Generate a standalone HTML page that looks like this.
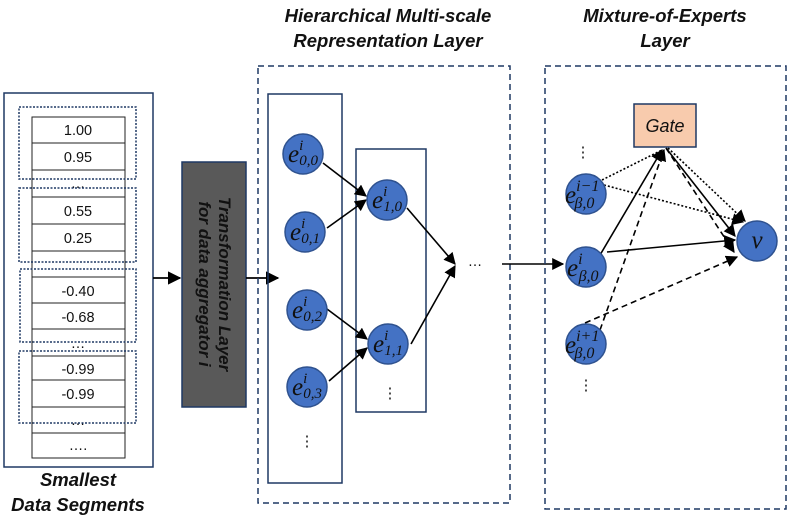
<!DOCTYPE html>
<html><head><meta charset="utf-8"><style>
html,body{margin:0;padding:0;background:#fff;}
svg{display:block;}
.t{font-family:"Liberation Sans",sans-serif;font-weight:bold;font-style:italic;font-size:18.5px;fill:#111;}
.c{font-family:"Liberation Sans",sans-serif;font-size:14.5px;fill:#111;}
.m{font-family:"Liberation Serif",serif;font-style:italic;fill:#111;}
</style></head><body>
<svg width="789" height="519" viewBox="0 0 789 519" xmlns="http://www.w3.org/2000/svg">
<defs>
<marker id="a" viewBox="0 0 10 10" refX="9" refY="5" markerWidth="7.5" markerHeight="7.5" orient="auto"><path d="M0,0L10,5L0,10z" fill="#000"/></marker>
</defs>
<text class="t" x="388" y="22" text-anchor="middle">Hierarchical Multi-scale</text>
<text class="t" x="388" y="47" text-anchor="middle">Representation Layer</text>
<text class="t" x="665" y="22" text-anchor="middle">Mixture-of-Experts</text>
<text class="t" x="665" y="47" text-anchor="middle">Layer</text>
<text class="t" x="78" y="486" text-anchor="middle">Smallest</text>
<text class="t" x="78" y="511" text-anchor="middle">Data Segments</text>

<rect x="4" y="93" width="149" height="374" fill="#fff" stroke="#1f3864" stroke-width="1.5"/>
<g stroke="#222" stroke-width="1" fill="#fff">
<rect x="32" y="117" width="93" height="341"/>
<line x1="32" y1="143" x2="125" y2="143"/><line x1="32" y1="170" x2="125" y2="170"/>
<line x1="32" y1="197" x2="125" y2="197"/><line x1="32" y1="224" x2="125" y2="224"/>
<line x1="32" y1="251" x2="125" y2="251"/><line x1="32" y1="277" x2="125" y2="277"/>
<line x1="32" y1="303" x2="125" y2="303"/><line x1="32" y1="329" x2="125" y2="329"/>
<line x1="32" y1="356" x2="125" y2="356"/><line x1="32" y1="380" x2="125" y2="380"/>
<line x1="32" y1="407" x2="125" y2="407"/><line x1="32" y1="433" x2="125" y2="433"/>
</g>
<g class="c" text-anchor="middle">
<text x="78" y="135">1.00</text><text x="78" y="162">0.95</text>
<text x="78" y="188">…</text>
<text x="78" y="216">0.55</text><text x="78" y="243">0.25</text>
<text x="78" y="296">-0.40</text><text x="78" y="322">-0.68</text>
<text x="78" y="348">…</text>
<text x="78" y="374">-0.99</text><text x="78" y="399">-0.99</text>
<text x="78" y="425">…</text><text x="78" y="450">….</text>
</g>
<g fill="none" stroke="#1f3864" stroke-width="1.5" stroke-dasharray="2,1.5">
<rect x="19" y="107" width="117" height="72"/>
<rect x="19" y="188" width="117" height="74"/>
<rect x="20" y="269" width="116" height="73"/>
<rect x="19" y="351" width="117" height="72"/>
</g>
<line x1="153" y1="278" x2="180" y2="278" stroke="#000" stroke-width="1.8" marker-end="url(#a)"/>
<rect x="182" y="162" width="64" height="245" fill="#595959" stroke="#1f3864" stroke-width="1.5"/>
<g transform="translate(214,284) rotate(90)">
<text class="t" x="0" y="-5" text-anchor="middle" style="font-size:17px">Transformation Layer</text>
<text class="t" x="0" y="15" text-anchor="middle" style="font-size:17px">for data aggregator i</text>
</g>
<line x1="246" y1="278" x2="278" y2="278" stroke="#000" stroke-width="1.8" marker-end="url(#a)"/>

<rect x="258" y="66" width="252" height="437" fill="none" stroke="#1f3864" stroke-width="1.5" stroke-dasharray="6,4"/>
<rect x="268" y="94" width="74" height="389" fill="none" stroke="#1f3864" stroke-width="1.5"/>
<rect x="356" y="149" width="70" height="263" fill="none" stroke="#1f3864" stroke-width="1.5"/>
<g stroke="#000" stroke-width="1.6" marker-end="url(#a)">
<line x1="323" y1="163" x2="366" y2="196"/>
<line x1="327" y1="228" x2="366" y2="200"/>
<line x1="327" y1="309" x2="367" y2="339"/>
<line x1="329" y1="381" x2="367" y2="348"/>
<line x1="407" y1="208" x2="455" y2="264"/>
<line x1="411" y1="344" x2="455" y2="266"/>
<line x1="502" y1="264" x2="563" y2="264"/>
</g>
<text class="c" x="475" y="266" text-anchor="middle">…</text>
<text class="c" x="307" y="446" text-anchor="middle">⋮</text>
<text class="c" x="390" y="398" text-anchor="middle">⋮</text>

<g fill="#4472c4" stroke="#2f528f" stroke-width="1.5">
<circle cx="303" cy="154" r="20"/><circle cx="305" cy="232" r="20"/>
<circle cx="307" cy="310" r="20"/><circle cx="307" cy="387" r="20"/>
<circle cx="387" cy="200" r="20"/><circle cx="388" cy="344" r="20"/>
</g>
<g class="m">
<text x="288" y="162" font-size="25">e<tspan font-size="15" dy="-12">i</tspan><tspan font-size="15" dx="-4" dy="15">0,0</tspan></text>
<text x="290" y="240" font-size="25">e<tspan font-size="15" dy="-12">i</tspan><tspan font-size="15" dx="-4" dy="15">0,1</tspan></text>
<text x="292" y="318" font-size="25">e<tspan font-size="15" dy="-12">i</tspan><tspan font-size="15" dx="-4" dy="15">0,2</tspan></text>
<text x="292" y="395" font-size="25">e<tspan font-size="15" dy="-12">i</tspan><tspan font-size="15" dx="-4" dy="15">0,3</tspan></text>
<text x="372" y="208" font-size="25">e<tspan font-size="15" dy="-12">i</tspan><tspan font-size="15" dx="-4" dy="15">1,0</tspan></text>
<text x="373" y="352" font-size="25">e<tspan font-size="15" dy="-12">i</tspan><tspan font-size="15" dx="-4" dy="15">1,1</tspan></text>
</g>

<rect x="545" y="66" width="241" height="443" fill="none" stroke="#1f3864" stroke-width="1.5" stroke-dasharray="6,4"/>
<g stroke="#000" stroke-width="1.6" fill="none">
<line x1="602" y1="180" x2="662" y2="150" stroke-dasharray="2,2"/>
<line x1="604" y1="185" x2="743" y2="222" stroke-dasharray="2,2" marker-end="url(#a)"/>
<line x1="600" y1="255" x2="662" y2="150" marker-end="url(#a)"/>
<line x1="607" y1="252" x2="735" y2="240" marker-end="url(#a)"/>
<line x1="600" y1="330" x2="664" y2="150" stroke-dasharray="6,4" marker-end="url(#a)"/>
<line x1="585" y1="323" x2="737" y2="257" stroke-dasharray="6,4" marker-end="url(#a)"/>
<line x1="666" y1="148" x2="735" y2="236" marker-end="url(#a)"/>
<line x1="666" y1="148" x2="734" y2="252" stroke-dasharray="6,4" marker-end="url(#a)"/>
<line x1="668" y1="148" x2="745" y2="221" stroke-dasharray="2,2" marker-end="url(#a)"/>
</g>
<rect x="634" y="104" width="62" height="43" fill="#f8cbad" stroke="#1f3864" stroke-width="1.5"/>
<text x="665" y="132" text-anchor="middle" style="font-family:'Liberation Sans',sans-serif;font-style:italic;font-size:18px;fill:#111">Gate</text>
<g fill="#4472c4" stroke="#2f528f" stroke-width="1.5">
<circle cx="586" cy="194" r="20"/><circle cx="586" cy="267" r="20"/>
<circle cx="586" cy="344" r="20"/><circle cx="757" cy="241" r="20"/>
</g>
<g class="m">
<text x="565" y="203" font-size="25">e<tspan font-size="16" dy="-12">i−1</tspan><tspan font-size="16" dx="-25" dy="17">β,0</tspan></text>
<text x="567" y="276" font-size="25">e<tspan font-size="16" dy="-12">i</tspan><tspan font-size="16" dx="-4" dy="17">β,0</tspan></text>
<text x="565" y="353" font-size="25">e<tspan font-size="16" dy="-12">i+1</tspan><tspan font-size="16" dx="-25" dy="17">β,0</tspan></text>
<text x="757" y="248" font-size="25" text-anchor="middle">v</text>
</g>
<text class="c" x="583" y="157" text-anchor="middle">⋮</text>
<text class="c" x="586" y="390" text-anchor="middle">⋮</text>
</svg>
</body></html>
